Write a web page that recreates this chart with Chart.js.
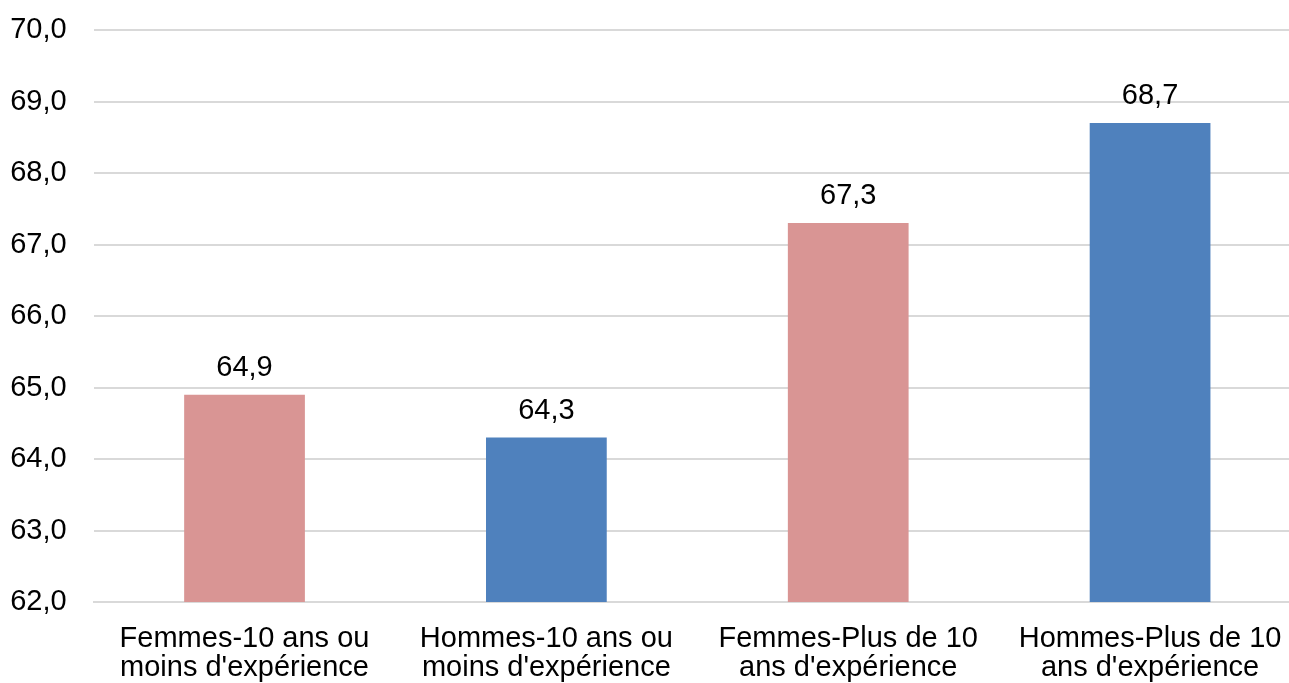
<!DOCTYPE html>
<html lang="fr">
<head>
<meta charset="utf-8">
<title>Score moyen selon le sexe et l'expérience</title>
<script src="https://cdn.jsdelivr.net/npm/chart.js@4/dist/chart.umd.min.js"></script>
<style>
  html, body { margin: 0; padding: 0; background: #ffffff; overflow: hidden; }
  #wrap { position: relative; width: 1301px; height: 690px; }
  canvas { display: block; }
</style>
</head>
<body>
<div id="wrap"><canvas id="chart" width="1301" height="690"></canvas></div>
<script>
// Catégories (libellés sur deux lignes)
const categories = [
  ["Femmes-10 ans ou", "moins d'expérience"],
  ["Hommes-10 ans ou", "moins d'expérience"],
  ["Femmes-Plus de 10", "ans d'expérience"],
  ["Hommes-Plus de 10", "ans d'expérience"]
];
// Valeurs moyennes
const values = [64.9, 64.3, 67.3, 68.7];
// Couleur de chaque barre (femmes / hommes)
const barColors = ["#d99594", "#4f81bd", "#d99594", "#4f81bd"];
// Bornes de l'axe vertical
const yMin = 62;
const yMax = 70;
const yStep = 1;

const FONT = "'Liberation Sans', Arial, sans-serif";
const fmt = v => v.toFixed(1).replace('.', ',');

// Étiquettes de valeur au-dessus des barres
const valueLabels = {
  id: 'valueLabels',
  afterDatasetsDraw(chart) {
    const ctx = chart.ctx;
    ctx.save();
    ctx.font = `29px ${FONT}`;
    ctx.fillStyle = '#000000';
    ctx.textAlign = 'center';
    ctx.textBaseline = 'alphabetic';
    chart.data.datasets.forEach((ds, di) => {
      chart.getDatasetMeta(di).data.forEach((bar, i) => {
        ctx.fillText(fmt(ds.data[i]), bar.x, bar.y - 19);
      });
    });
    ctx.restore();
  }
};

new Chart(document.getElementById('chart'), {
  type: 'bar',
  data: {
    labels: categories,
    datasets: [{
      data: values,
      backgroundColor: barColors,
      borderWidth: 0,
      barPercentage: 0.4,
      categoryPercentage: 1.0
    }]
  },
  options: {
    responsive: false,
    devicePixelRatio: 1,
    animation: false,
    layout: { padding: { top: 30, left: 0, right: 0, bottom: 0 } },
    plugins: {
      legend: { display: false },
      tooltip: { enabled: false },
      title: { display: false }
    },
    scales: {
      x: {
        grid: { display: false, drawTicks: false },
        border: { display: true, color: '#d9d9d9', width: 2 },
        ticks: {
          color: '#000000',
          font: { family: FONT, size: 29, lineHeight: 1.0 },
          padding: 22,
          maxRotation: 0,
          autoSkip: false
        },
        afterFit(scale) {
          scale.height = 88;
          scale.paddingLeft = 0;
          scale.paddingRight = 0;
        }
      },
      y: {
        min: yMin,
        max: yMax,
        grid: { color: '#d9d9d9', lineWidth: 2, drawTicks: false },
        border: { display: false },
        ticks: {
          stepSize: yStep,
          color: '#000000',
          font: { family: FONT, size: 29 },
          padding: 27,
          callback: v => fmt(v)
        },
        afterFit(scale) {
          scale.width = 93.6;
          scale.paddingTop = 0;
          scale.paddingBottom = 0;
        }
      }
    }
  },
  plugins: [valueLabels]
});
</script>
</body>
</html>
